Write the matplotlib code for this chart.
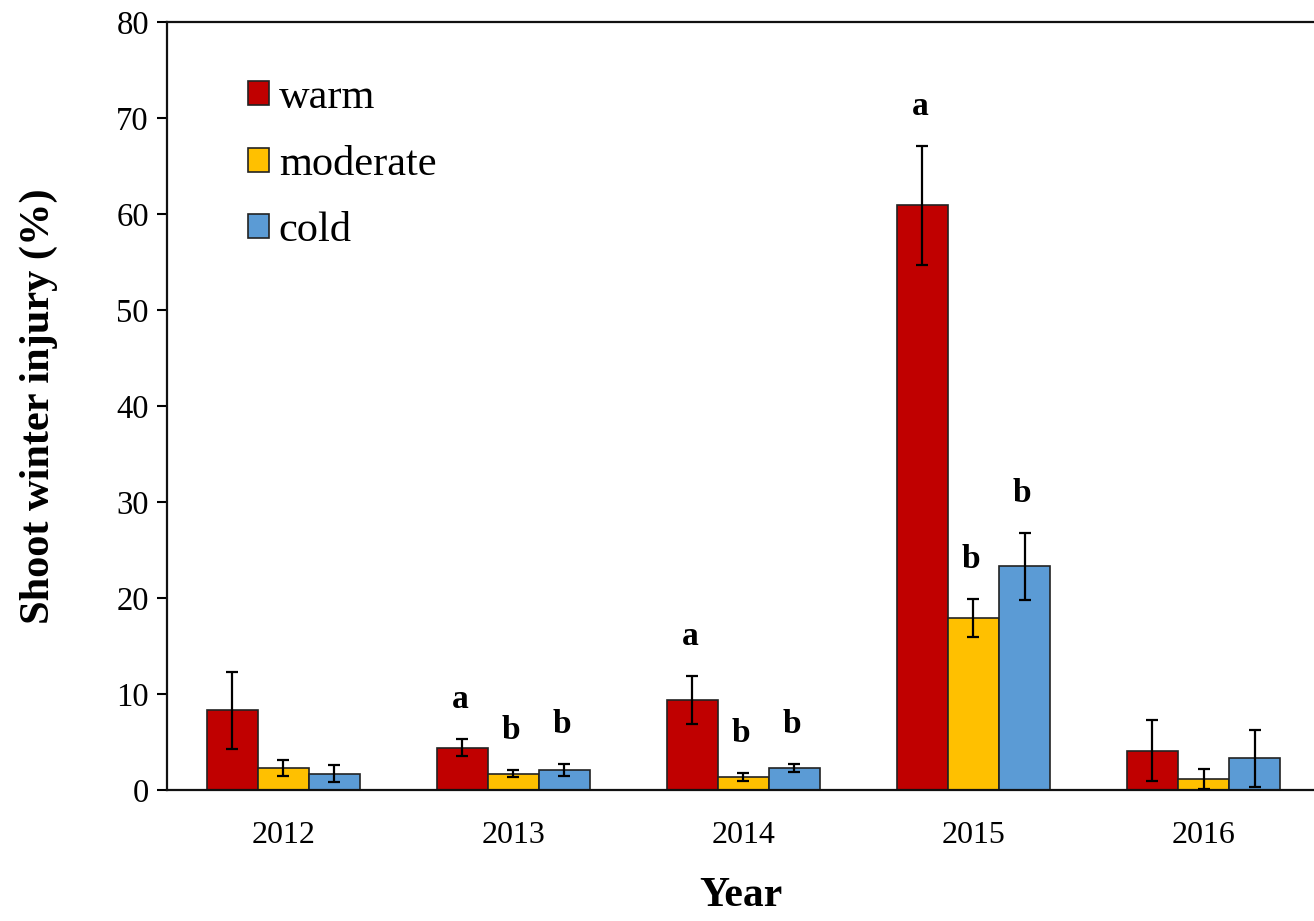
import matplotlib
matplotlib.use("Agg")

import matplotlib.pyplot as plt
import numpy as np

years = ["2012", "2013", "2014", "2015", "2016"]
series = ["warm", "moderate", "cold"]
colors = ["#C00000", "#FFC000", "#5B9BD5"]

warm = [8.3, 4.4, 9.4, 60.9, 4.1]
warm_err = [4.0, 0.9, 2.5, 6.2, 3.2]
moderate = [2.3, 1.7, 1.35, 17.9, 1.15]
moderate_err = [0.85, 0.35, 0.4, 2.0, 1.05]
cold = [1.7, 2.1, 2.3, 23.3, 3.3]
cold_err = [0.9, 0.65, 0.45, 3.5, 3.0]

# significance letters per year (None = no letter)
letters_warm = [None, "a", "a", "a", None]
letters_moderate = [None, "b", "b", "b", None]
letters_cold = [None, "b", "b", "b", None]

plt.rcParams["font.family"] = ["Liberation Serif", "DejaVu Serif"]

fig = plt.figure(figsize=(13.14, 9.21), dpi=100)
ax = fig.add_axes([0.1271, 0.1422, 0.8729, 0.8339])

x = np.arange(len(years))
width = 0.222
values = [warm, moderate, cold]
errs = [warm_err, moderate_err, cold_err]
letters = [letters_warm, letters_moderate, letters_cold]

for i, (vals, err, lab, col, lets) in enumerate(zip(values, errs, series, colors, letters)):
    pos = x + (i - 1) * width
    ax.bar(pos, vals, width, color=col, edgecolor="#222222", linewidth=1.2,
           label=lab, zorder=2)
    ax.errorbar(pos, vals, yerr=err, fmt="none", ecolor="black",
                elinewidth=1.6, capsize=4.5, capthick=1.6, zorder=3)
    for p, v, e, t in zip(pos, vals, err, lets):
        if t:
            ax.text(p - 0.01, v + e + 4.1, t, ha="center", va="center",
                    fontsize=24, fontweight="bold")

ax.set_ylim(0, 80)
ax.set_xlim(-0.505, 4.48)
ax.set_yticks(np.arange(0, 81, 10))
ax.set_xticks(x)
ax.set_xticklabels(years)

ax.tick_params(axis="y", direction="out", length=7, width=1.5, labelsize=23.5, pad=6)
ax.tick_params(axis="x", length=0, labelsize=23, pad=22)

for s in ["left", "top", "bottom"]:
    ax.spines[s].set_linewidth(1.6)
    ax.spines[s].set_color("#111111")
ax.spines["right"].set_visible(False)

ax.set_ylabel("Shoot winter injury (%)", fontsize=30.5, fontweight="bold", labelpad=42)
ax.set_xlabel("Year", fontsize=30, fontweight="bold", labelpad=20)

ax.legend(loc="upper left", bbox_to_anchor=(0.056, 0.948), frameon=False,
          fontsize=30.5, handlelength=0.5, handleheight=0.5, handletextpad=0.22,
          labelspacing=0.66, borderaxespad=0)

fig.savefig("out.png", dpi=100)
